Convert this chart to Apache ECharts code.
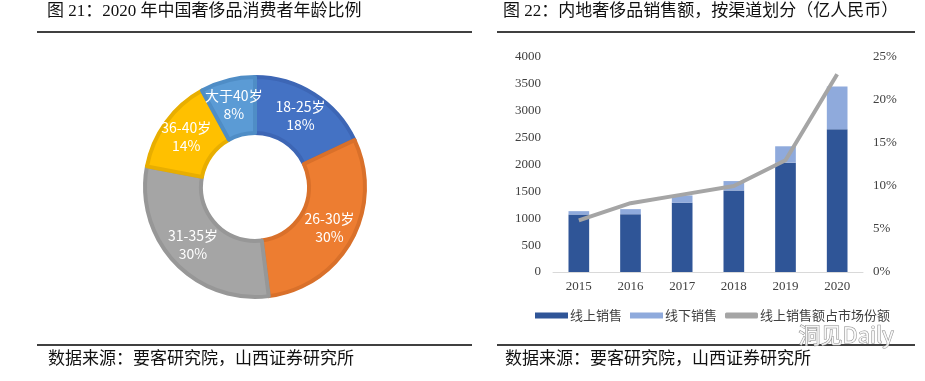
<!DOCTYPE html>
<html><head><meta charset="utf-8">
<script src="https://cdn.jsdelivr.net/npm/echarts@6/dist/echarts.min.js"></script>
<style>html,body{margin:0;padding:0;background:#fff}#c{width:925px;height:381px}</style>
</head><body><div id="c"></div>
<script>
// Left: age distribution
const ageGroups = ['18-25岁', '26-30岁', '31-35岁', '36-40岁', '大于40岁'];
const agePct = [18, 30, 30, 14, 8];
const ageColors = ['#4472C4', '#ED7D31', '#A5A5A5', '#FFC000', '#5B9BD5'];
const ageBorders = ['#3D66B5', '#D9702A', '#979797', '#E8AE00', '#4F8DC6'];

// Right: sales by channel
const years = ['2015', '2016', '2017', '2018', '2019', '2020'];
const onlineSales = [1070, 1076, 1288, 1518, 2034, 2656];
const offlineSales = [62, 94, 137, 174, 305, 797];
const onlineShare = [6, 8, 9, 10, 13, 23];
const leftTicks = [0, 4000, 500];
const rightTicks = [0, 25, 5];

const titleFont = "'Liberation Serif', 'Noto Sans CJK SC', serif";
const chart = echarts.init(document.getElementById('c'));
chart.setOption({
  animation: false,
  graphic: [
    {type:'text', left:47, top:3, style:{text:'图 21：2020 年中国奢侈品消费者年龄比例', font:"17px " + titleFont, fill:'#111'}},
    {type:'text', left:503, top:3, style:{text:'图 22：内地奢侈品销售额，按渠道划分（亿人民币）', font:"17px " + titleFont, fill:'#111'}},
    {type:'line', shape:{x1:37, y1:32, x2:472, y2:32}, style:{stroke:'#000', lineWidth:1.5}},
    {type:'line', shape:{x1:497, y1:32, x2:915, y2:32}, style:{stroke:'#000', lineWidth:1.5}},
    {type:'line', shape:{x1:37, y1:345, x2:472, y2:345}, style:{stroke:'#000', lineWidth:1.5}},
    {type:'line', shape:{x1:497, y1:345, x2:915, y2:345}, style:{stroke:'#000', lineWidth:1.5}},
    {type:'text', left:48, top:351, style:{text:'数据来源：要客研究院，山西证券研究所', font:"17px " + titleFont, fill:'#111'}},
    {type:'text', left:505, top:351, style:{text:'数据来源：要客研究院，山西证券研究所', font:"17px " + titleFont, fill:'#111'}},
    {type:'text', left:798, top:323, z:100, style:{text:'洞见Daily', font:"22px 'Noto Sans CJK SC'", fill:'rgba(255,255,255,0.85)', stroke:'#8a8a8a', lineWidth:1}}
  ],
  legend: {
    left: 530, top: 304, itemWidth: 33, itemHeight: 6, itemGap: 8,
    textStyle: {fontSize: 13, color: '#404040', fontFamily: "'Noto Sans CJK SC'", padding:[0,0,0,-3]},
    data: [{name:'线上销售', icon:'rect'}, {name:'线下销售', icon:'rect'}, {name:'线上销售额占市场份额', icon:'roundRect'}]
  },
  grid: {left: 553, right: 62, top: 57, bottom: 109},
  xAxis: {
    type: 'category', data: years,
    axisLine: {lineStyle: {color: '#D9D9D9', width: 1}},
    axisTick: {show: false},
    axisLabel: {fontSize: 13, color: '#404040', fontFamily: "'Liberation Serif'", margin: 8}
  },
  yAxis: [
    {type:'value', min:leftTicks[0], max:leftTicks[1], interval:leftTicks[2],
     splitLine:{show:false}, axisLine:{show:false}, axisTick:{show:false},
     axisLabel:{fontSize:13, color:'#404040', fontFamily:"'Liberation Serif'", margin:12, formatter:(v)=>String(v)}},
    {type:'value', min:rightTicks[0], max:rightTicks[1], interval:rightTicks[2],
     splitLine:{show:false}, axisLine:{show:false}, axisTick:{show:false},
     axisLabel:{fontSize:13, color:'#404040', fontFamily:"'Liberation Serif'", margin:10, formatter:'{value}%'}}
  ],
  series: [
    {type:'pie', center:[255,187], radius:[54,110], startAngle:90, clockwise:true, avoidLabelOverlap:false,
     labelLayout:{hideOverlap:false},
     label:{show:true, position:'inside', color:'#fff', fontSize:14, lineHeight:18,
            fontFamily:"'Noto Sans CJK SC'", formatter:(p)=>p.name + '\n' + p.value + '%'},
     labelLine:{show:false}, emphasis:{disabled:true},
     data: ageGroups.map((n,i)=>({name:n, value:agePct[i],
        itemStyle:{color:ageColors[i], borderColor:ageBorders[i], borderWidth:4}}))},
    {name:'线上销售', type:'bar', stack:'s', data:onlineSales, barWidth:'40%', itemStyle:{color:'#2F5597'}},
    {name:'线下销售', type:'bar', stack:'s', data:offlineSales, barWidth:'40%', itemStyle:{color:'#8FAADC'}},
    {name:'线上销售额占市场份额', type:'line', yAxisIndex:1, data:onlineShare, symbol:'none',
     lineStyle:{color:'#A5A5A5', width:4}, itemStyle:{color:'#A5A5A5'}, z:5}
  ]
});
</script></body></html>
